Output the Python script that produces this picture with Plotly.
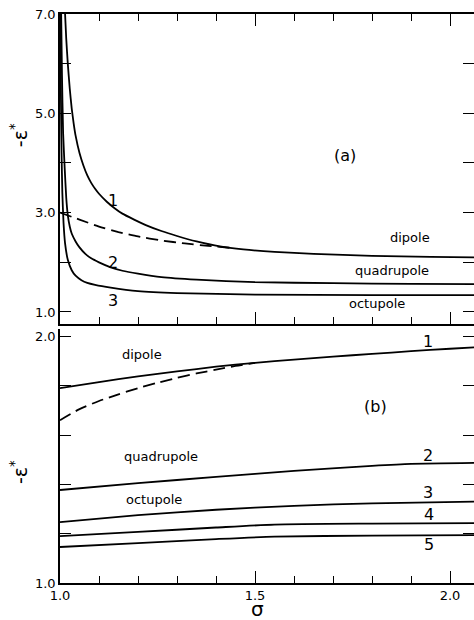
import plotly.graph_objects as go

# ---------------- panel (a): -eps* vs sigma, steep region ----------------
a1_x = [1.013, 1.016, 1.02, 1.025, 1.03, 1.035, 1.04, 1.05, 1.06, 1.07, 1.08, 1.09, 1.10, 1.12,
        1.14, 1.16, 1.19, 1.22, 1.26, 1.30, 1.35, 1.41, 1.47, 1.55, 1.65, 1.80, 1.95, 2.07]
a1_y = [7.0, 6.5, 6.0, 5.5, 5.1, 4.8, 4.55, 4.2, 3.95, 3.75, 3.6, 3.48, 3.38, 3.22,
        3.09, 2.98, 2.86, 2.75, 2.63, 2.53, 2.42, 2.32, 2.26, 2.21, 2.17, 2.13, 2.11, 2.10]

a1_dash_x = [1.0, 1.05, 1.10, 1.15, 1.20, 1.26, 1.32, 1.38, 1.44]
a1_dash_y = [3.0, 2.86, 2.72, 2.61, 2.52, 2.44, 2.38, 2.33, 2.29]

a2_x = [1.003, 1.005, 1.008, 1.012, 1.016, 1.02, 1.025, 1.03, 1.04, 1.05, 1.065, 1.08, 1.10,
        1.13, 1.16, 1.2, 1.26, 1.35, 1.5, 1.7, 1.9, 2.07]
a2_y = [7.0, 5.8, 4.6, 3.9, 3.3, 2.95, 2.72, 2.58, 2.42, 2.30, 2.17, 2.08, 2.0,
        1.9, 1.83, 1.77, 1.70, 1.65, 1.60, 1.58, 1.565, 1.56]

a3_x = [1.001, 1.002, 1.004, 1.006, 1.009, 1.013, 1.02, 1.03, 1.04, 1.055, 1.07, 1.09, 1.13,
        1.2, 1.3, 1.5, 1.8, 2.07]
a3_y = [7.0, 5.6, 4.2, 3.4, 2.8, 2.38, 2.05, 1.84, 1.73, 1.64, 1.585, 1.545, 1.49,
        1.42, 1.38, 1.35, 1.34, 1.34]

# ---------------- panel (b): -eps* vs sigma, expanded scale ----------------
b1_x = [1.0, 1.1, 1.2, 1.3, 1.4, 1.5, 1.6, 1.7, 1.8, 1.9, 2.0, 2.07]
b1_y = [1.79, 1.815, 1.838, 1.858, 1.877, 1.893, 1.906, 1.918, 1.929, 1.940, 1.950, 1.956]

b1_dash_x = [1.0, 1.05, 1.1, 1.15, 1.2, 1.25, 1.3, 1.35, 1.4, 1.45, 1.5]
b1_dash_y = [1.66, 1.705, 1.738, 1.765, 1.79, 1.812, 1.832, 1.85, 1.865, 1.88, 1.893]

b2_x = [1.0, 1.2, 1.4, 1.6, 1.8, 1.9, 2.07]
b2_y = [1.377, 1.405, 1.43, 1.455, 1.475, 1.483, 1.487]

b3_x = [1.0, 1.2, 1.4, 1.6, 1.8, 2.07]
b3_y = [1.247, 1.275, 1.297, 1.313, 1.323, 1.33]

b4_x = [1.0, 1.2, 1.4, 1.55, 1.8, 2.07]
b4_y = [1.19, 1.207, 1.225, 1.237, 1.241, 1.243]

b5_x = [1.0, 1.2, 1.4, 1.55, 1.8, 2.07]
b5_y = [1.146, 1.162, 1.178, 1.188, 1.192, 1.194]

# ---------------- ticks ----------------
x_major = [1.0, 1.5, 2.0]
x_major_text = ["1.0", "1.5", "2.0"]
x_minor = [1.1, 1.2, 1.3, 1.4, 1.6, 1.7, 1.8, 1.9]
ya_ticks = [1, 2, 3, 4, 5, 6, 7]
ya_text = ["1.0", "", "3.0", "", "5.0", "", "7.0"]
yb_ticks = [1.0, 1.2, 1.4, 1.6, 1.8, 2.0]
yb_text = ["1.0", "", "", "", "", "2.0"]

# ---------------- labels ----------------
a_curve_labels = [("1", 1.136, 3.25), ("2", 1.136, 1.99), ("3", 1.136, 1.24)]
a_text_labels = [("dipole", 1.897, 2.49), ("quadrupole", 1.851, 1.845), ("octupole", 1.813, 1.18)]
b_curve_labels = [("1", 1.944, 1.978), ("2", 1.944, 1.519), ("3", 1.944, 1.365),
                  ("4", 1.947, 1.276), ("5", 1.947, 1.156)]
b_text_labels = [("dipole", 1.21, 1.925), ("quadrupole", 1.259, 1.511), ("octupole", 1.24, 1.337)]

FONT = "DejaVu Sans"
X_RANGE = [1.0, 2.0615]
YA_RANGE = [0.758, 7.0]
YB_RANGE = [1.0, 2.03]

fig = go.Figure()

solid = dict(color="black", width=1.8)
dashed = dict(color="black", width=1.8, dash="12px,6px")

for xs, ys, ln in [(a1_x, a1_y, solid), (a1_dash_x, a1_dash_y, dashed),
                   (a2_x, a2_y, solid), (a3_x, a3_y, solid)]:
    fig.add_trace(go.Scatter(x=xs, y=ys, mode="lines", line=dict(ln, shape="spline", smoothing=0.5),
                             xaxis="x2", yaxis="y2", showlegend=False, hoverinfo="skip",
                             cliponaxis=True))

for xs, ys, ln in [(b1_x, b1_y, solid), (b1_dash_x, b1_dash_y, dashed), (b2_x, b2_y, solid),
                   (b3_x, b3_y, solid), (b4_x, b4_y, solid), (b5_x, b5_y, solid)]:
    fig.add_trace(go.Scatter(x=xs, y=ys, mode="lines", line=dict(ln, shape="spline", smoothing=0.6),
                             xaxis="x", yaxis="y", showlegend=False, hoverinfo="skip"))

# empty traces so the mirrored tick axes are laid out
for xa, ya in [("x", "y3"), ("x2", "y4"), ("x4", "y2")]:
    fig.add_trace(go.Scatter(x=[], y=[], xaxis=xa, yaxis=ya, showlegend=False, hoverinfo="skip"))

tickfont = dict(family=FONT, size=13, color="black")
common_x = dict(range=X_RANGE, showgrid=False, zeroline=False, ticks="inside",
                tickmode="array", tickvals=x_major, ticktext=x_major_text, ticklen=12,
                tickwidth=1.3, tickcolor="black",
                minor=dict(tickmode="array", tickvals=x_minor, ticks="inside", ticklen=7,
                           tickwidth=1.2, tickcolor="black", showgrid=False),
                tickfont=tickfont)

AX_LINE = dict(showline=True, linecolor="black", linewidth=1.5)

fig.update_layout(
    width=474, height=620,
    margin=dict(l=60, r=0, t=14, b=37),
    paper_bgcolor="white", plot_bgcolor="white",
    xaxis=dict(common_x, domain=[0, 1], anchor="y", **AX_LINE, showticklabels=True),
    yaxis=dict(domain=[0, 0.4464], range=YB_RANGE, anchor="x", **AX_LINE,
               showgrid=False, zeroline=False, ticks="inside", tickmode="array",
               tickvals=yb_ticks, ticktext=yb_text, ticklen=11, tickwidth=1.3,
               tickcolor="black", tickfont=tickfont),
    yaxis3=dict(overlaying="y", side="right", anchor="x", range=YB_RANGE, showline=False,
                showgrid=False, zeroline=False, ticks="inside", tickmode="array",
                tickvals=yb_ticks, ticklen=11, tickwidth=1.3, tickcolor="black",
                showticklabels=False),
    xaxis2=dict(common_x, domain=[0, 1], anchor="y2", **AX_LINE, showticklabels=False),
    xaxis4=dict(common_x, overlaying="x2", side="top", anchor="y2", **AX_LINE,
                showticklabels=False),
    yaxis2=dict(domain=[0.4552, 1], range=YA_RANGE, anchor="x2", **AX_LINE,
                showgrid=False, zeroline=False, ticks="inside", tickmode="array",
                tickvals=ya_ticks, ticktext=ya_text, ticklen=11, tickwidth=1.3,
                tickcolor="black", tickfont=tickfont),
    yaxis4=dict(overlaying="y2", side="right", anchor="x2", range=YA_RANGE, showline=False,
                showgrid=False, zeroline=False, ticks="inside", tickmode="array",
                tickvals=ya_ticks, ticklen=11, tickwidth=1.3, tickcolor="black",
                showticklabels=False),
)

ann = []
for t, x, y in a_curve_labels:
    ann.append(dict(text=t, x=x, y=y, xref="x2", yref="y2", showarrow=False,
                    font=dict(family=FONT, size=16, color="black")))
for t, x, y in a_text_labels:
    ann.append(dict(text=t, x=x, y=y, xref="x2", yref="y2", showarrow=False,
                    font=dict(family=FONT, size=13, color="black")))
ann.append(dict(text="(a)", x=1.731, y=4.16, xref="x2", yref="y2", showarrow=False,
                font=dict(family=FONT, size=16, color="black")))
for t, x, y in b_curve_labels:
    ann.append(dict(text=t, x=x, y=y, xref="x", yref="y", showarrow=False,
                    font=dict(family=FONT, size=16, color="black")))
for t, x, y in b_text_labels:
    ann.append(dict(text=t, x=x, y=y, xref="x", yref="y", showarrow=False,
                    font=dict(family=FONT, size=13, color="black")))
ann.append(dict(text="(b)", x=1.808, y=1.714, xref="x", yref="y", showarrow=False,
                font=dict(family=FONT, size=16, color="black")))

# axis titles
for ypos in [0.787, 0.195]:
    ann.append(dict(text="-ε<sup>*</sup>", x=-0.099, y=ypos, xref="paper", yref="paper",
                    xanchor="center", yanchor="middle", showarrow=False, textangle=-90,
                    font=dict(family=FONT, size=19, color="black")))
ann.append(dict(text="σ", x=0.476, y=-0.046, xref="paper", yref="paper", showarrow=False,
                xanchor="center", yanchor="middle",
                font=dict(family=FONT, size=20, color="black")))

fig.update_layout(annotations=ann)
fig.write_html("out.html")
